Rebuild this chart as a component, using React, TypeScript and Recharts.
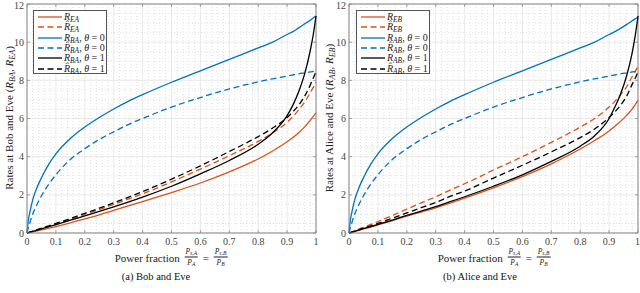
import React from 'react';
import { LineChart, Line, XAxis, YAxis, CartesianGrid, ReferenceLine } from 'recharts';

// Power fraction samples (shared x grid)
const powerFraction = [0, 0.005, 0.01, 0.02, 0.03, 0.05, 0.075, 0.1, 0.15, 0.2, 0.25, 0.3, 0.35, 0.4, 0.5, 0.6, 0.7, 0.8, 0.85, 0.9, 0.92, 0.94, 0.96, 0.98, 0.99, 1];

// (a) Bob and Eve
const bobREA = [0, 0.015, 0.03, 0.06, 0.095, 0.16, 0.25, 0.34, 0.53, 0.74, 0.95, 1.18, 1.42, 1.65, 2.12, 2.62, 3.2, 3.88, 4.3, 4.78, 5.0, 5.25, 5.55, 5.9, 6.1, 6.3];
const bobRhatEA = [0, 0.02, 0.04, 0.08, 0.12, 0.21, 0.32, 0.44, 0.7, 0.97, 1.23, 1.5, 1.77, 2.05, 2.68, 3.35, 4.05, 4.8, 5.25, 5.8, 6.1, 6.45, 6.85, 7.35, 7.62, 7.9];
const bobRBA0 = [0, 0.7, 1.1, 1.75, 2.2, 2.9, 3.6, 4.15, 4.95, 5.55, 6.05, 6.5, 6.9, 7.25, 7.9, 8.5, 9.1, 9.7, 10.0, 10.4, 10.55, 10.75, 10.95, 11.15, 11.27, 11.37];
const bobRhatBA0 = [0, 0.3, 0.55, 1.0, 1.35, 1.95, 2.55, 3.05, 3.85, 4.42, 4.9, 5.3, 5.68, 6.0, 6.6, 7.1, 7.55, 7.92, 8.08, 8.22, 8.28, 8.34, 8.39, 8.44, 8.46, 8.48];
const bobRBA1 = [0, 0.02, 0.045, 0.09, 0.13, 0.22, 0.33, 0.44, 0.67, 0.9, 1.13, 1.37, 1.62, 1.88, 2.45, 3.1, 3.8, 4.65, 5.25, 6.15, 6.7, 7.4, 8.3, 9.55, 10.35, 11.37];
const bobRhatBA1 = [0, 0.025, 0.05, 0.1, 0.15, 0.25, 0.37, 0.5, 0.76, 1.03, 1.3, 1.58, 1.87, 2.17, 2.82, 3.52, 4.27, 5.05, 5.5, 6.05, 6.35, 6.7, 7.15, 7.75, 8.1, 8.45];

// (b) Alice and Eve
const aliceREB = [0, 0.02, 0.04, 0.085, 0.125, 0.21, 0.31, 0.42, 0.65, 0.88, 1.1, 1.32, 1.57, 1.83, 2.37, 2.95, 3.62, 4.4, 4.85, 5.35, 5.6, 5.85, 6.15, 6.5, 6.72, 6.95];
const aliceRhatEB = [0, 0.03, 0.06, 0.12, 0.18, 0.3, 0.45, 0.6, 0.92, 1.25, 1.58, 1.9, 2.25, 2.58, 3.3, 4.0, 4.75, 5.55, 6.0, 6.6, 6.9, 7.25, 7.65, 8.2, 8.45, 8.74];
const aliceRAB0 = [0, 0.7, 1.1, 1.75, 2.2, 2.9, 3.6, 4.15, 4.95, 5.55, 6.05, 6.5, 6.9, 7.25, 7.9, 8.5, 9.1, 9.7, 10.0, 10.4, 10.55, 10.72, 10.92, 11.12, 11.22, 11.32];
const aliceRhatAB0 = [0, 0.3, 0.55, 1.0, 1.35, 1.95, 2.55, 3.05, 3.85, 4.42, 4.9, 5.3, 5.68, 6.0, 6.6, 7.1, 7.55, 7.92, 8.08, 8.22, 8.28, 8.34, 8.39, 8.44, 8.46, 8.48];
const aliceRAB1 = [0, 0.02, 0.045, 0.09, 0.135, 0.225, 0.34, 0.45, 0.68, 0.92, 1.15, 1.38, 1.64, 1.9, 2.45, 3.05, 3.75, 4.55, 5.1, 6.0, 6.6, 7.3, 8.2, 9.45, 10.3, 11.37];
const aliceRhatAB1 = [0, 0.025, 0.05, 0.1, 0.15, 0.25, 0.38, 0.5, 0.78, 1.05, 1.33, 1.6, 1.92, 2.2, 2.88, 3.55, 4.25, 5.0, 5.45, 6.05, 6.35, 6.7, 7.15, 7.8, 8.1, 8.44];

const xTicks = [0, 0.1, 0.2, 0.3, 0.4, 0.5, 0.6, 0.7, 0.8, 0.9, 1];
const yTicks = [0, 2, 4, 6, 8, 10, 12];
const xMinor: number[] = [];
for (let i = 1; i < 50; i++) if (i % 5 !== 0) xMinor.push(i / 50);
const yMinor: number[] = [];
for (let i = 1; i < 24; i++) if (i % 4 !== 0) yMinor.push(i / 2);

const ORANGE = '#D95319';
const BLUE = '#0072BD';
const BLACK = '#000000';
const FONT = '"Liberation Serif", "DejaVu Serif", serif';
const DASH = '6 3.5';
const AXIS = '#888';

type PanelProps = {
  left: number;
  yAxisWidth: number;
  rightMargin: number;
  series: number[][];
  labels: React.ReactNode[];
  yLabel: React.ReactNode;
  caption: string;
  legendLeft: number;
  xLabelCenter: number;
  captionCenter: number;
  yLabelX: number;
};

const styles = [
  { color: ORANGE, dash: undefined },
  { color: ORANGE, dash: DASH },
  { color: BLUE, dash: undefined },
  { color: BLUE, dash: DASH },
  { color: BLACK, dash: undefined },
  { color: BLACK, dash: DASH },
];

const Sub = ({ children }: { children: React.ReactNode }) => (
  <sub style={{ fontSize: '0.74em', verticalAlign: '-0.3em', fontStyle: 'italic', lineHeight: 0 }}>{children}</sub>
);

const Frac = ({ num, den }: { num: React.ReactNode; den: React.ReactNode }) => (
  <span style={{ display: 'inline-flex', flexDirection: 'column', alignItems: 'center', verticalAlign: 'middle', fontSize: 7.5, lineHeight: '8px', margin: '0 2px' }}>
    <span style={{ borderBottom: '0.8px solid #222', padding: '0 1px 1px 1px' }}>{num}</span>
    <span style={{ paddingTop: 1 }}>{den}</span>
  </span>
);

const R = ({ hat, sub, theta }: { hat?: boolean; sub: string; theta?: string }) => (
  <span>
    <i>{hat ? 'R\u0302' : 'R'}</i>
    <Sub>{sub}</Sub>
    {theta !== undefined ? (
      <span>
        , <i>θ</i> = {theta}
      </span>
    ) : null}
  </span>
);

const Panel = (p: PanelProps) => {
  const data = powerFraction.map((x, i) => {
    const row: any = { x };
    p.series.forEach((s, k) => (row['s' + k] = s[i]));
    return row;
  });
  return (
    <div style={{ position: 'absolute', left: p.left, top: 0, width: 320, height: 293 }}>
      <LineChart width={320} height={293} data={data} margin={{ top: 4, right: p.rightMargin, bottom: 0, left: 0 }}>
        <CartesianGrid stroke="#e3e3e3" strokeWidth={0.8} />
        {xMinor.map((v) => (
          <ReferenceLine key={'xm' + v} x={v} stroke="#d4d4d4" strokeWidth={0.7} strokeDasharray="1 2" />
        ))}
        {yMinor.map((v) => (
          <ReferenceLine key={'ym' + v} y={v} stroke="#d4d4d4" strokeWidth={0.7} strokeDasharray="1 2" />
        ))}
        <XAxis
          dataKey="x"
          type="number"
          domain={[0, 1]}
          ticks={xTicks}
          tickFormatter={(v: number) => (v === 0 ? '0' : v === 1 ? '1' : String(v))}
          tickLine={false}
          tickSize={0}
          tickMargin={5}
          height={60}
          stroke={AXIS}
          tick={{ fill: '#444', fontSize: 10, fontFamily: FONT }}
        />
        <YAxis
          type="number"
          domain={[0, 12]}
          ticks={yTicks}
          tickLine={false}
          tickSize={0}
          tickMargin={3}
          width={p.yAxisWidth}
          stroke={AXIS}
          tick={{ fill: '#444', fontSize: 10, fontFamily: FONT }}
        />
        <ReferenceLine x={1} stroke={AXIS} strokeWidth={1} />
        <ReferenceLine y={12} stroke={AXIS} strokeWidth={1} />
        {/* inward tick marks */}
        {xTicks.map((v) => (
          <ReferenceLine key={'xtb' + v} segment={[{ x: v, y: 0 }, { x: v, y: 0.15 }]} stroke={AXIS} strokeWidth={0.8} />
        ))}
        {xTicks.map((v) => (
          <ReferenceLine key={'xtt' + v} segment={[{ x: v, y: 12 }, { x: v, y: 11.85 }]} stroke={AXIS} strokeWidth={0.8} />
        ))}
        {yTicks.map((v) => (
          <ReferenceLine key={'ytl' + v} segment={[{ x: 0, y: v }, { x: 0.01, y: v }]} stroke={AXIS} strokeWidth={0.8} />
        ))}
        {yTicks.map((v) => (
          <ReferenceLine key={'ytr' + v} segment={[{ x: 1, y: v }, { x: 0.99, y: v }]} stroke={AXIS} strokeWidth={0.8} />
        ))}
        {p.series.map((_, k) => (
          <Line
            key={k}
            dataKey={'s' + k}
            type="monotone"
            stroke={styles[k].color}
            strokeDasharray={styles[k].dash}
            strokeWidth={1.3}
            dot={false}
            activeDot={false}
            isAnimationActive={false}
          />
        ))}
      </LineChart>
      {/* legend */}
      <div
        style={{
          position: 'absolute',
          left: p.legendLeft,
          top: 10,
          width: 74,
          height: 64,
          border: '0.8px solid #555',
          background: '#fff',
          fontFamily: FONT,
          fontSize: 10,
          color: '#222',
          boxSizing: 'border-box',
          paddingTop: 1,
        }}
      >
        {p.labels.map((lab, k) => (
          <div key={k} style={{ display: 'flex', alignItems: 'center', height: 10.3, whiteSpace: 'nowrap' }}>
            <svg width={30} height={8} style={{ flex: 'none' }}>
              <line x1={4} y1={4} x2={28} y2={4} stroke={styles[k].color} strokeWidth={1.3} strokeDasharray={styles[k].dash} />
            </svg>
            <span style={{ lineHeight: '10px' }}>{lab}</span>
          </div>
        ))}
      </div>
      {/* y label */}
      <div
        style={{
          position: 'absolute',
          left: p.yLabelX,
          top: 118,
          transform: 'translate(-50%, -50%) rotate(-90deg)',
          whiteSpace: 'nowrap',
          fontFamily: FONT,
          fontSize: 11,
          color: '#222',
        }}
      >
        {p.yLabel}
      </div>
      {/* x label */}
      <div
        style={{
          position: 'absolute',
          left: p.xLabelCenter,
          top: 257,
          transform: 'translate(-50%, -50%)',
          whiteSpace: 'nowrap',
          fontFamily: FONT,
          fontSize: 11,
          lineHeight: '12px',
          color: '#222',
          display: 'flex',
          alignItems: 'center',
        }}
      >
        <span>Power fraction&nbsp;</span>
        <Frac num={<span><i>P</i><Sub>s,A</Sub></span>} den={<span><i>P</i><Sub>A</Sub></span>} />
        <span>&nbsp;=&nbsp;</span>
        <Frac num={<span><i>P</i><Sub>s,B</Sub></span>} den={<span><i>P</i><Sub>B</Sub></span>} />
      </div>
      {/* caption */}
      <div
        style={{
          position: 'absolute',
          left: p.captionCenter,
          top: 276,
          transform: 'translate(-50%, -50%)',
          whiteSpace: 'nowrap',
          fontFamily: FONT,
          fontSize: 10.5,
          color: '#111',
        }}
      >
        {p.caption}
      </div>
    </div>
  );
};

export default function App() {
  return (
    <div style={{ position: 'absolute', left: 0, top: 0, width: 640, height: 293, background: '#fff', overflow: 'hidden' }}>
      <Panel
        left={0}
        yAxisWidth={27}
        rightMargin={4}
        series={[bobREA, bobRhatEA, bobRBA0, bobRhatBA0, bobRBA1, bobRhatBA1]}
        labels={[
          <R sub="EA" />,
          <R hat sub="EA" />,
          <R sub="BA" theta="0" />,
          <R hat sub="BA" theta="0" />,
          <R sub="BA" theta="1" />,
          <R hat sub="BA" theta="1" />,
        ]}
        yLabel={
          <span>
            Rates at Bob and Eve (<i>R</i><Sub>BA</Sub>, <i>R</i><Sub>EA</Sub>)
          </span>
        }
        caption="(a) Bob and Eve"
        legendLeft={33}
        xLabelCenter={172}
        captionCenter={156}
        yLabelX={9}
      />
      <Panel
        left={320}
        yAxisWidth={29}
        rightMargin={2}
        series={[aliceREB, aliceRhatEB, aliceRAB0, aliceRhatAB0, aliceRAB1, aliceRhatAB1]}
        labels={[
          <R sub="EB" />,
          <R hat sub="EB" />,
          <R sub="AB" theta="0" />,
          <R hat sub="AB" theta="0" />,
          <R sub="AB" theta="1" />,
          <R hat sub="AB" theta="1" />,
        ]}
        yLabel={
          <span>
            Rates at Alice and Eve (<i>R</i><Sub>AB</Sub>, <i>R</i><Sub>EB</Sub>)
          </span>
        }
        caption="(b) Alice and Eve"
        legendLeft={36}
        xLabelCenter={175}
        captionCenter={160}
        yLabelX={9}
      />
    </div>
  );
}
